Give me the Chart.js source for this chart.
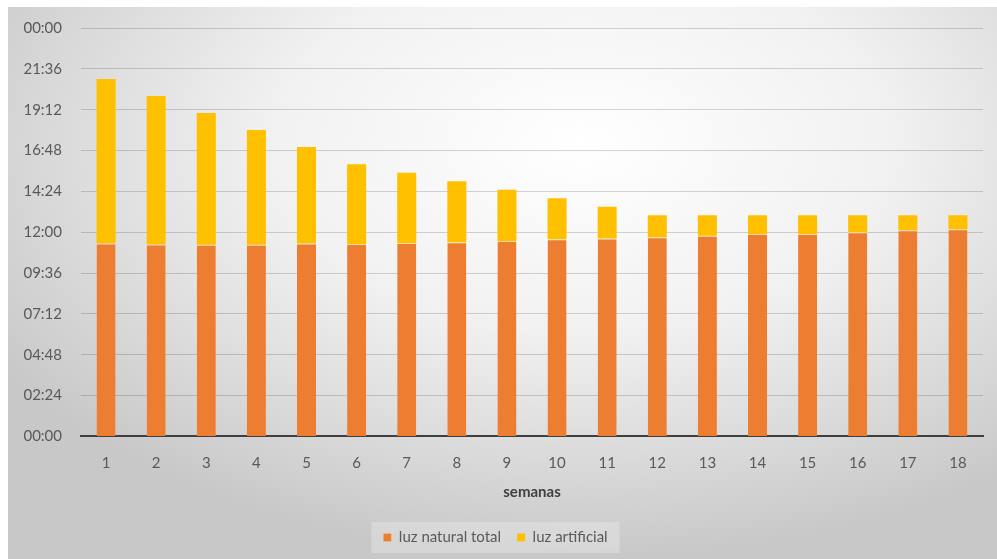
<!DOCTYPE html>
<html>
<head>
<meta charset="utf-8">
<script src="https://cdn.jsdelivr.net/npm/chart.js@4.4.0/dist/chart.umd.min.js"></script>
<style>
  html, body { margin: 0; padding: 0; background: #ffffff; }
  #wrap {
    position: absolute; left: 8px; top: 7px; width: 989px; height: 552px;
    background: radial-gradient(ellipse 70% 75% at 58% 25%, #ffffff 0%, #f1f1f1 45%, #c8c8c8 100%);
  }
  canvas { display: block; }
</style>
</head>
<body>
<div id="wrap"><canvas id="c" width="989" height="552"></canvas></div>
<script>
// Data (hours per day)
const semanas = ['1','2','3','4','5','6','7','8','9','10','11','12','13','14','15','16','17','18'];
const luzNaturalTotal = [11.34, 11.28, 11.26, 11.26, 11.34, 11.31, 11.37, 11.41, 11.49, 11.59, 11.63, 11.71, 11.79, 11.89, 11.90, 12.00, 12.12, 12.18];
const luzArtificial   = [9.66, 8.72, 7.74, 6.74, 5.66, 4.69, 4.13, 3.59, 3.01, 2.41, 1.87, 1.29, 1.21, 1.11, 1.10, 1.00, 0.88, 0.82];
const yTickStepHours = 2.4;
const yMaxHours = 24;

function fmtTime(h) {
  let m = Math.round(h * 60) % 1440;
  const hh = Math.floor(m / 60), mm = m % 60;
  return String(hh).padStart(2, '0') + ':' + String(mm).padStart(2, '0');
}

const FONT = 'Lato, "Open Sans", sans-serif';
const legendBox = {
  id: 'legendBox',
  beforeDraw(chart) {
    const lg = chart.legend;
    if (!lg || !lg.legendHitBoxes || !lg.legendHitBoxes.length) return;
    const hb = lg.legendHitBoxes;
    let l = Infinity, r = -Infinity, t = Infinity, b = -Infinity;
    hb.forEach(h => { l = Math.min(l, h.left); r = Math.max(r, h.left + h.width); t = Math.min(t, h.top); b = Math.max(b, h.top + h.height); });
    const ctx = chart.ctx;
    ctx.save();
    ctx.fillStyle = 'rgba(255,255,255,0.25)';
    ctx.fillRect(l - 12, t - 8, r - l + 24, b - t + 16);
    ctx.restore();
  }
};

new Chart(document.getElementById('c'), {
  type: 'bar',
  data: {
    labels: semanas,
    datasets: [
      { label: 'luz natural total', data: luzNaturalTotal, backgroundColor: '#ED7D31',
        borderColor: '#FBD9A8', borderWidth: { top: 1, left: 0, right: 0, bottom: 0 }, borderSkipped: false },
      { label: 'luz artificial', data: luzArtificial, backgroundColor: '#FFC000', borderWidth: 0 }
    ]
  },
  options: {
    responsive: false,
    animation: false,
    devicePixelRatio: 1,
    layout: { padding: { top: 21, right: 14, bottom: 4, left: 0 } },
    datasets: { bar: { barPercentage: 0.38, categoryPercentage: 1.0 } },
    plugins: {
      tooltip: { enabled: false },
      legend: {
        position: 'bottom',
        labels: { font: { family: FONT, size: 15 }, color: '#595959', boxWidth: 8, boxHeight: 8, padding: 16 }
      }
    },
    scales: {
      x: {
        stacked: true,
        grid: { display: false, drawTicks: false },
        border: { display: true, color: '#3f3f3f', width: 2 },
        ticks: { font: { family: FONT, size: 15 }, color: '#595959', padding: 18, maxRotation: 0 },
        title: { display: true, text: 'semanas', font: { family: FONT, size: 15, weight: 'bold' }, color: '#404040', padding: { top: 0, bottom: 13 } },
        afterFit(s) { s.height = 77.6; }
      },
      y: {
        stacked: true,
        min: 0, max: yMaxHours,
        grid: { color: 'rgba(0,0,0,0.16)', lineWidth: 1, drawTicks: false },
        border: { display: false },
        ticks: { stepSize: yTickStepHours, font: { family: FONT, size: 15 }, color: '#595959', padding: 19,
                 callback: v => fmtTime(v) },
        afterFit(s) { s.width = 73; s.paddingTop = 0; s.paddingBottom = 0; }
      }
    }
  },
  plugins: [legendBox]
});
</script>
</body>
</html>
